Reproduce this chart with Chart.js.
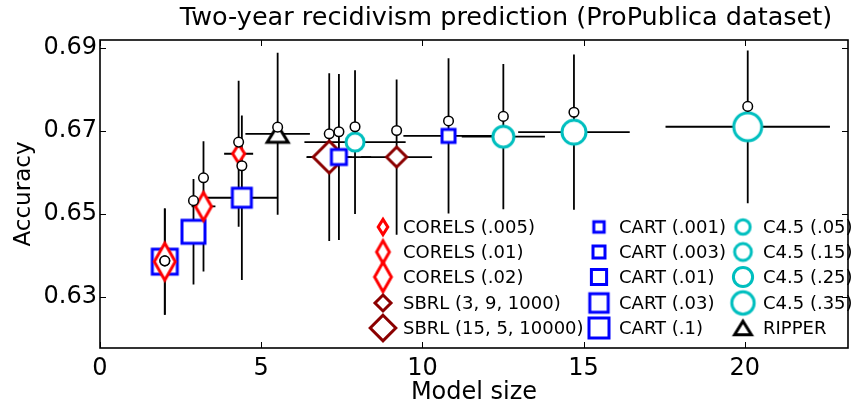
<!DOCTYPE html>
<html>
<head>
<meta charset="utf-8">
<title>Two-year recidivism prediction</title>
<script src="https://cdn.jsdelivr.net/npm/chart.js@4.4.1/dist/chart.umd.min.js"></script>
<style>
  html, body { margin: 0; padding: 0; background: #fff; }
</style>
</head>
<body>
<canvas id="chart" width="852" height="407"></canvas>
<script>
// one entry per model: mean model size, test accuracy (+ std) and training accuracy
const methods = ['CORELS (.005)', 'CORELS (.01)', 'CORELS (.02)', 'SBRL (3, 9, 1000)', 'SBRL (15, 5, 10000)',
  'CART (.001)', 'CART (.003)', 'CART (.01)', 'CART (.03)', 'CART (.1)',
  'C4.5 (.05)', 'C4.5 (.15)', 'C4.5 (.25)', 'C4.5 (.35)', 'RIPPER'];
const modelSize    = [4.30, 3.21, 2.01, 9.20, 7.11, 10.81, 7.41, 4.40, 2.90, 2.01, 7.91, 12.51, 14.70, 20.09, 5.51];
const modelSizeErr = [0.45, 0.37, 0.20, 1.10, 0.70, 1.40, 1.00, 1.10, 0.30, 0.25, 1.57, 1.29, 1.73, 2.55, 1.00];
const testAcc      = [0.6645, 0.6518, 0.6385, 0.6637, 0.6637, 0.6688, 0.6637, 0.6539, 0.6457, 0.6385, 0.6673, 0.6686, 0.6697, 0.6710, 0.6693];
const testAccErr   = [0.0176, 0.0157, 0.0128, 0.0187, 0.0202, 0.0187, 0.0200, 0.0198, 0.0127, 0.0128, 0.0173, 0.0175, 0.0187, 0.0184, 0.0195];
const trainAcc     = [0.6673, 0.6587, 0.6387, 0.6701, 0.6693, 0.6724, 0.6698, 0.6616, 0.6532, 0.6387, 0.6710, 0.6735, 0.6745, 0.6759, 0.6709];
const xTicks = [0, 5, 10, 15, 20];
const yTicks = [0.63, 0.65, 0.67, 0.69];

// marker look for each model (shape, colour, path width/height)
const RED = '#ff0000', DARKRED = '#8b0000', BLUE = '#0000ff', CYAN = '#00bfbf';
const markerStyle = [
  ['thin', RED, 12, 19], ['thin', RED, 16, 28], ['thin', RED, 21, 37],
  ['diamond', DARKRED, 20, 20], ['diamond', DARKRED, 32, 32],
  ['square', BLUE, 13, 13], ['square', BLUE, 15, 15], ['square', BLUE, 19, 19], ['square', BLUE, 23, 23], ['square', BLUE, 25, 25],
  ['circle', CYAN, 18, 18], ['circle', CYAN, 21, 21], ['circle', CYAN, 24, 24], ['circle', CYAN, 28, 28],
  ['triangle', '#000', 21, 17]
];
// painting order, first is painted first
const drawRank = [8, 9, 10, 0, 1, 2, 3, 4, 5, 6, 11, 12, 13, 14, 7];

const FONT = 'DejaVu Sans';

function markerImage(shape, color, w, h, lw) {
  const c = document.createElement('canvas');
  c.width = Math.ceil(w + 2 * lw + 6);
  c.height = Math.ceil(h + 2 * lw + 6);
  const g = c.getContext('2d');
  const cx = c.width / 2, cy = c.height / 2;
  g.beginPath();
  if (shape === 'thin' || shape === 'diamond') {
    g.moveTo(cx, cy - h / 2);
    g.lineTo(cx + w / 2, cy);
    g.lineTo(cx, cy + h / 2);
    g.lineTo(cx - w / 2, cy);
  } else if (shape === 'square') {
    g.rect(cx - w / 2, cy - h / 2, w, h);
  } else if (shape === 'circle') {
    g.arc(cx, cy, w / 2, 0, Math.PI * 2);
  } else {
    g.moveTo(cx, cy - h / 2);
    g.lineTo(cx + w / 2, cy + h / 2);
    g.lineTo(cx - w / 2, cy + h / 2);
  }
  g.closePath();
  g.fillStyle = '#fff';
  g.fill();
  g.lineJoin = 'miter';
  g.lineWidth = lw;
  g.strokeStyle = color;
  g.stroke();
  return c;
}

const plotMarkers = markerStyle.map(([s, col, w, h]) => markerImage(s, col, w, h, 3));
const legendMarkers = markerStyle.map(([s, col, w, h]) => markerImage(s, col, w * 0.8, h * 0.8, 3));

// error bars in x (model size) and y (accuracy), under every marker
const errorBars = {
  id: 'errorBars',
  beforeDatasetsDraw(chart) {
    const { ctx, chartArea: a, scales: { x, y } } = chart;
    ctx.save();
    ctx.beginPath();
    ctx.rect(a.left, a.top, a.right - a.left, a.bottom - a.top);
    ctx.clip();
    ctx.strokeStyle = '#000';
    ctx.lineWidth = 1.8;
    methods.forEach((m, i) => {
      const px = x.getPixelForValue(modelSize[i]);
      const py = y.getPixelForValue(testAcc[i]);
      ctx.beginPath();
      ctx.moveTo(x.getPixelForValue(modelSize[i] - modelSizeErr[i]), py);
      ctx.lineTo(x.getPixelForValue(modelSize[i] + modelSizeErr[i]), py);
      ctx.moveTo(px, y.getPixelForValue(testAcc[i] - testAccErr[i]));
      ctx.lineTo(px, y.getPixelForValue(testAcc[i] + testAccErr[i]));
      ctx.stroke();
    });
    ctx.restore();
  }
};

// box round the axes with inward ticks, plus the title
const frame = {
  id: 'frame',
  afterDraw(chart) {
    const { ctx, chartArea: a, scales: { x, y } } = chart;
    ctx.save();
    ctx.strokeStyle = '#000';
    ctx.lineWidth = 1;
    ctx.beginPath();
    xTicks.forEach(v => {
      const px = Math.round(x.getPixelForValue(v)) + 0.5;
      ctx.moveTo(px, a.bottom); ctx.lineTo(px, a.bottom - 6);
      ctx.moveTo(px, a.top); ctx.lineTo(px, a.top + 6);
    });
    yTicks.forEach(v => {
      const py = Math.round(y.getPixelForValue(v)) + 0.5;
      ctx.moveTo(a.left, py); ctx.lineTo(a.left + 6, py);
      ctx.moveTo(a.right, py); ctx.lineTo(a.right - 6, py);
    });
    ctx.stroke();
    ctx.lineWidth = 1.6;
    ctx.strokeRect(a.left, a.top, a.right - a.left, a.bottom - a.top);

    ctx.fillStyle = '#000';
    ctx.font = '25.5px "' + FONT + '"';
    ctx.textAlign = 'center';
    ctx.textBaseline = 'middle';
    ctx.fillText('Two-year recidivism prediction (ProPublica dataset)', 506, 18);
    ctx.restore();
  }
};

// three-column legend inside the axes
const legendCols = [283, 499, 643];
const legendRows = [187, 212, 237, 263, 288];
const keyLegend = {
  id: 'keyLegend',
  afterDatasetsDraw(chart) {
    const { ctx, chartArea: a } = chart;
    ctx.save();
    ctx.font = '18px "' + FONT + '"';
    ctx.fillStyle = '#000';
    ctx.textBaseline = 'middle';
    methods.forEach((m, i) => {
      const cx = a.left + legendCols[Math.floor(i / 5)];
      const cy = a.top + legendRows[i % 5];
      const img = legendMarkers[i];
      ctx.drawImage(img, cx - img.width / 2, cy - img.height / 2);
      ctx.fillText(m, cx + 20, cy + 1);
    });
    ctx.restore();
  }
};

const datasets = [{
  label: 'train',
  data: methods.map((m, i) => ({ x: modelSize[i], y: trainAcc[i] })),
  pointStyle: 'circle',
  pointRadius: 4.8,
  pointBorderWidth: 1.5,
  pointBackgroundColor: '#fff',
  pointBorderColor: '#000',
  showLine: false,
  order: 0
}];
methods.forEach((m, i) => {
  datasets.push({
    label: m,
    data: [{ x: modelSize[i], y: testAcc[i] }],
    pointStyle: plotMarkers[i],
    pointRadius: 10,
    showLine: false,
    order: 100 - drawRank[i]
  });
});

new Chart(document.getElementById('chart'), {
  type: 'scatter',
  data: { datasets },
  plugins: [errorBars, frame, keyLegend],
  options: {
    responsive: false,
    animation: false,
    events: [],
    layout: { autoPadding: false, padding: { top: 40, right: 4, left: 0, bottom: 0 } },
    plugins: { legend: { display: false }, tooltip: { enabled: false }, title: { display: false } },
    scales: {
      x: {
        type: 'linear',
        min: 0, max: 23.2,
        afterBuildTicks: s => { s.ticks = xTicks.map(v => ({ value: v })); },
        afterFit: s => { s.height = 59; },
        grid: { display: false, drawTicks: false },
        border: { display: false },
        ticks: { padding: 6, color: '#000', font: { family: FONT, size: 24 }, maxRotation: 0 },
        title: { display: true, text: 'Model size', color: '#000', font: { family: FONT, size: 24 }, padding: { top: 0, bottom: 0 } }
      },
      y: {
        type: 'linear',
        min: 0.6177, max: 0.6919,
        afterBuildTicks: s => { s.ticks = yTicks.map(v => ({ value: v })); },
        afterFit: s => { s.width = 100; },
        grid: { display: false, drawTicks: false },
        border: { display: false },
        ticks: { padding: 3, color: '#000', font: { family: FONT, size: 24 }, callback: v => v.toFixed(2) },
        title: { display: true, text: 'Accuracy', color: '#000', font: { family: FONT, size: 23 }, padding: { top: 10, bottom: 0 } }
      }
    }
  }
});
</script>
</body>
</html>
